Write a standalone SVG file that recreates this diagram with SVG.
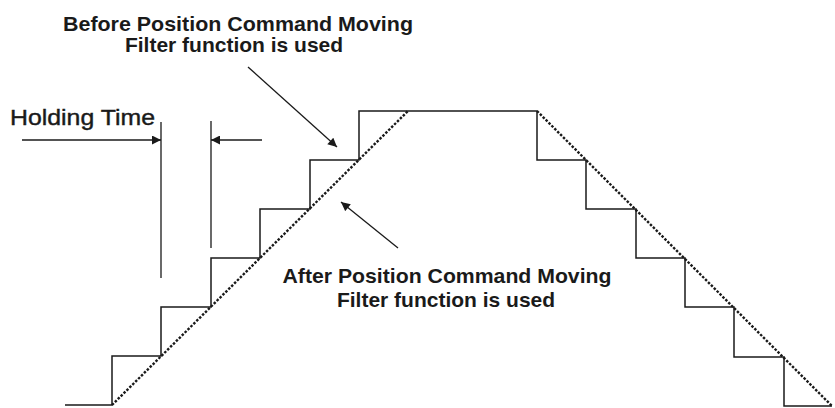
<svg xmlns="http://www.w3.org/2000/svg" width="835" height="408" viewBox="0 0 835 408">
  <style>
    .lbl { font-family: "Liberation Sans", Arial, sans-serif; font-size: 21px; fill: #1a1a1a; }
    .bold { font-weight: bold; }
    .reg { font-size: 22px; stroke: #1a1a1a; stroke-width: 0.4; }
    .step { fill: none; stroke: #1a1a1a; stroke-width: 1.5; }
    .dot { fill: none; stroke: #1a1a1a; stroke-width: 2.4; stroke-dasharray: 2.5 1.6; }
    .conn { fill: none; stroke: #1a1a1a; stroke-width: 1.3; }
  </style>
  <defs>
    <marker id="ah" viewBox="0 0 10 10" refX="10" refY="5" markerWidth="11" markerHeight="9" markerUnits="userSpaceOnUse" orient="auto">
      <path d="M0,0 L10,5 L0,10 Z" fill="#1a1a1a"/>
    </marker>
  </defs>
  <rect width="835" height="408" fill="#ffffff"/>

  <g id="before-label">
    <text class="lbl bold" x="238" y="31" text-anchor="middle" textLength="350" lengthAdjust="spacingAndGlyphs">Before Position Command Moving</text>
    <text class="lbl bold" x="234" y="52" text-anchor="middle">Filter function is used</text>
  </g>
  <g id="after-label">
    <text class="lbl bold" x="447" y="283" text-anchor="middle" textLength="329" lengthAdjust="spacingAndGlyphs">After Position Command Moving</text>
    <text class="lbl bold" x="446" y="307" text-anchor="middle">Filter function is used</text>
  </g>
  <g id="holding-time">
    <text class="lbl reg" x="10" y="125" textLength="145" lengthAdjust="spacingAndGlyphs">Holding Time</text>
    <line class="conn" x1="161" y1="122" x2="161" y2="278"/>
    <line class="conn" x1="211" y1="121" x2="211" y2="248"/>
  </g>
  <g id="step-command">
    <path class="step" d="M65,405 H112 V356 H161 V307 H211 V258 H260 V209 H310 V160 H359 V111 H537 V160 H586 V209 H636 V258 H685 V307 H734 V357 H784 V406 H832"/>
  </g>
  <g id="filtered-command">
    <line class="dot" x1="112" y1="405" x2="408" y2="111"/>
    <line class="dot" x1="537" y1="111" x2="832" y2="406"/>
  </g>
  <g id="connectors">
    <line class="conn" x1="22" y1="140" x2="161" y2="140" marker-end="url(#ah)"/>
    <line class="conn" x1="262" y1="140" x2="211" y2="140" marker-end="url(#ah)"/>
    <line class="conn" x1="248" y1="67" x2="337" y2="147" marker-end="url(#ah)"/>
    <line class="conn" x1="398" y1="248" x2="341" y2="202" marker-end="url(#ah)"/>
  </g>
</svg>
